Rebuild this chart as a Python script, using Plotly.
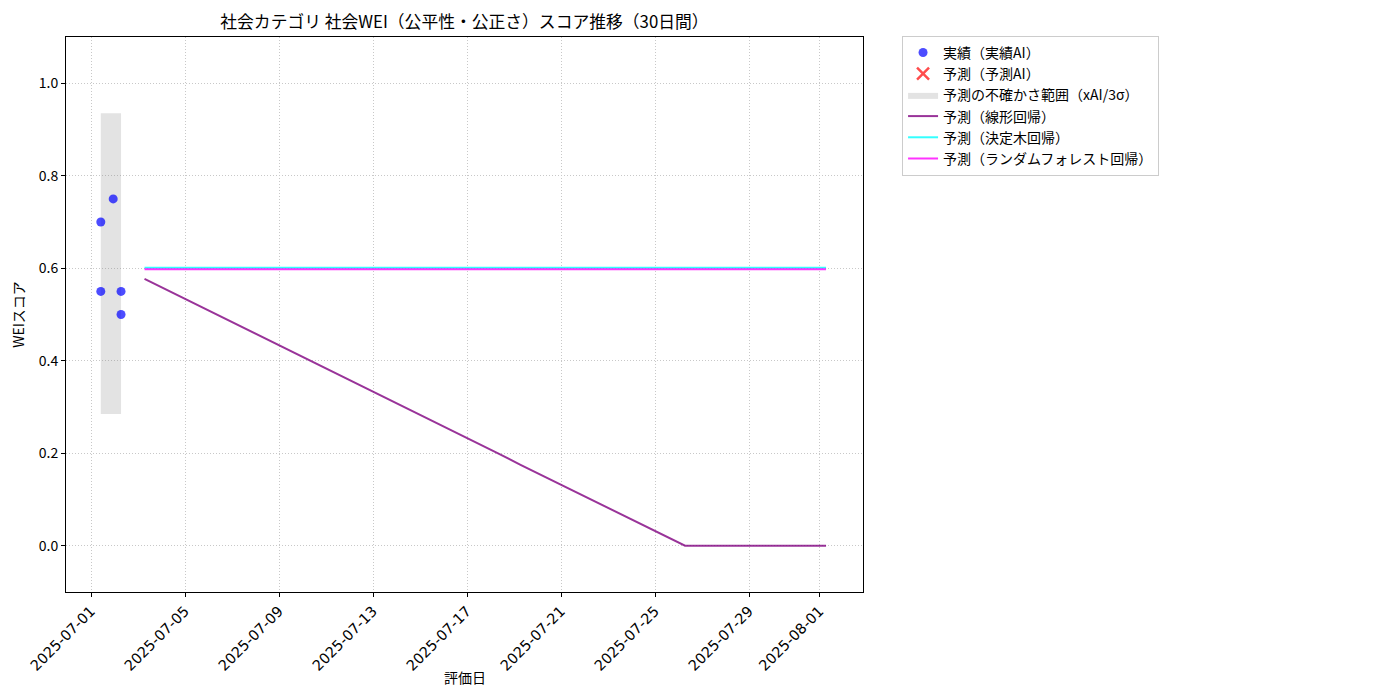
import plotly.graph_objects as go
import pandas as pd

# Actual observations
actual_dates = ["2025-07-01 10:00", "2025-07-01 10:00", "2025-07-01 22:40", "2025-07-02 06:40", "2025-07-02 06:40"]
actual_values = [0.70, 0.55, 0.75, 0.55, 0.50]

# Uncertainty band (xAI / 3 sigma)
band_dates = ["2025-07-01 10:00", "2025-07-02 06:40"]
band_low = [0.285, 0.285]
band_high = [0.935, 0.935]

# Forecast dates (30 days)
forecast_dates = list(pd.date_range("2025-07-03 06:40", periods=30, freq="D"))

linear_values = [0.577, 0.552, 0.527, 0.502, 0.477, 0.452, 0.426, 0.401, 0.376, 0.351,
                 0.326, 0.301, 0.276, 0.251, 0.226, 0.201, 0.175, 0.150, 0.125, 0.100,
                 0.075, 0.050, 0.025, 0.0, 0.0, 0.0, 0.0, 0.0, 0.0, 0.0]
tree_values = [0.601] * 30
rf_values = [0.598] * 30

x_ticks = ["2025-07-01", "2025-07-05", "2025-07-09", "2025-07-13", "2025-07-17",
           "2025-07-21", "2025-07-25", "2025-07-29", "2025-08-01"]
y_ticks = [0.0, 0.2, 0.4, 0.6, 0.8, 1.0]

FONT = "Noto Sans CJK JP, Noto Sans, sans-serif"
GRID = "#c8c8c8"

fig = go.Figure()

fig.add_trace(go.Scatter(
    x=[band_dates[0], band_dates[1], band_dates[1], band_dates[0], band_dates[0]],
    y=[band_low[0], band_low[1], band_high[1], band_high[0], band_low[0]],
    fill="toself", fillcolor="rgba(128,128,128,0.22)", mode="lines",
    line=dict(width=0, color="rgba(128,128,128,0.22)"),
    name="予測の不確かさ範囲（xAI/3σ）", legendrank=3, hoverinfo="skip"))

fig.add_trace(go.Scatter(
    x=forecast_dates, y=linear_values, mode="lines",
    line=dict(color="rgba(128,0,128,0.8)", width=2),
    name="予測（線形回帰）", legendrank=4))
fig.add_trace(go.Scatter(
    x=forecast_dates, y=tree_values, mode="lines",
    line=dict(color="rgba(0,255,255,0.8)", width=2),
    name="予測（決定木回帰）", legendrank=5))
fig.add_trace(go.Scatter(
    x=forecast_dates, y=rf_values, mode="lines",
    line=dict(color="rgba(255,0,255,0.8)", width=2),
    name="予測（ランダムフォレスト回帰）", legendrank=6))

fig.add_trace(go.Scatter(
    x=pd.to_datetime(actual_dates), y=actual_values, mode="markers",
    marker=dict(color="rgba(0,0,255,0.7)", size=9, line=dict(width=0)),
    name="実績（実績AI）", legendrank=1))
fig.add_trace(go.Scatter(
    x=[None], y=[None], mode="markers",
    marker=dict(color="rgba(255,0,0,0.7)", size=12, symbol="x-thin",
                line=dict(width=2.5, color="rgba(255,0,0,0.7)")),
    name="予測（予測AI）", legendrank=2))

fig.update_layout(
    width=1392, height=693,
    paper_bgcolor="white", plot_bgcolor="white",
    font=dict(family=FONT, size=14, color="black"),
    margin=dict(l=58, r=537, t=29, b=109, autoexpand=False),
    title=dict(text="社会カテゴリ 社会WEI（公平性・公正さ）スコア推移（30日間）",
               x=0.3279, xanchor="center", y=0.9798, yanchor="middle",
               font=dict(size=16.8)),
    legend=dict(x=1.049, y=1.002, xanchor="left", yanchor="top",
                bordercolor="#cccccc", borderwidth=1, bgcolor="white",
                font=dict(size=14), tracegroupgap=0, itemwidth=30),
    showlegend=True,
    annotations=[dict(text="評価日", xref="paper", yref="paper", x=0.5, y=-0.153,
                      xanchor="center", yanchor="middle", showarrow=False,
                      font=dict(size=14))],
)

fig.update_xaxes(
    range=["2025-06-29 22:28", "2025-08-02 20:24"],
    tickvals=x_ticks, tickformat="%Y-%m-%d", tickangle=-45,
    showline=True, linecolor="black", linewidth=1, mirror=True,
    ticks="outside", ticklen=4, tickcolor="black",
    showgrid=True, gridcolor=GRID, griddash="1px,2px", gridwidth=0.8,
    zeroline=False, automargin=False,
    tickfont=dict(size=14.5, family="DejaVu Sans, Noto Sans, sans-serif"),
)
fig.update_yaxes(
    range=[-0.1, 1.1], tickvals=y_ticks, tickformat=".1f",
    showline=True, linecolor="black", linewidth=1, mirror=True,
    ticks="outside", ticklen=4, tickcolor="black",
    showgrid=True, gridcolor=GRID, griddash="1px,2px", gridwidth=0.8,
    zeroline=False, automargin=False,
    tickfont=dict(size=14),
    title=dict(text="WEIスコア", font=dict(size=14), standoff=10),
)

fig.write_html("out.html")
